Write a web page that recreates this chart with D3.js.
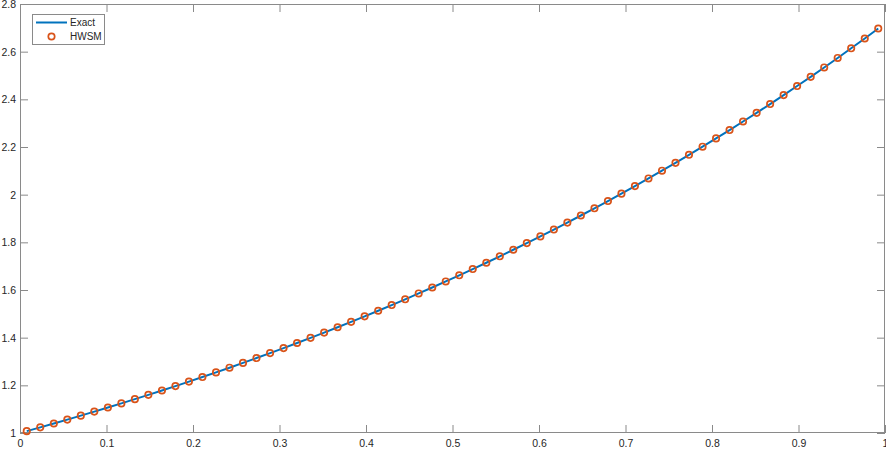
<!DOCTYPE html>
<html>
<head>
<meta charset="utf-8">
<script src="https://cdn.jsdelivr.net/npm/d3@7"></script>
<style>
  html, body { margin: 0; padding: 0; background: #fff; }
  svg { display: block; font-family: "Liberation Sans", Arial, Helvetica, sans-serif; }
</style>
</head>
<body>
<div class="displayArea"></div>
<script>
// collocation points (x) and values
const xPoints = [
  0.0078, 0.0234, 0.0391, 0.0547, 0.0703, 0.0859, 0.1016, 0.1172,
  0.1328, 0.1484, 0.1641, 0.1797, 0.1953, 0.2109, 0.2266, 0.2422,
  0.2578, 0.2734, 0.2891, 0.3047, 0.3203, 0.3359, 0.3516, 0.3672,
  0.3828, 0.3984, 0.4141, 0.4297, 0.4453, 0.4609, 0.4766, 0.4922,
  0.5078, 0.5234, 0.5391, 0.5547, 0.5703, 0.5859, 0.6016, 0.6172,
  0.6328, 0.6484, 0.6641, 0.6797, 0.6953, 0.7109, 0.7266, 0.7422,
  0.7578, 0.7734, 0.7891, 0.8047, 0.8203, 0.8359, 0.8516, 0.8672,
  0.8828, 0.8984, 0.9141, 0.9297, 0.9453, 0.9609, 0.9766, 0.9922
];

const exactValues = [
  1.0078, 1.0237, 1.0398, 1.0562, 1.0728, 1.0897, 1.1069, 1.1243,
  1.1420, 1.1600, 1.1783, 1.1968, 1.2157, 1.2348, 1.2543, 1.2740,
  1.2941, 1.3145, 1.3352, 1.3562, 1.3776, 1.3993, 1.4213, 1.4437,
  1.4664, 1.4895, 1.5130, 1.5368, 1.5610, 1.5856, 1.6105, 1.6359,
  1.6617, 1.6878, 1.7144, 1.7414, 1.7688, 1.7967, 1.8250, 1.8537,
  1.8829, 1.9126, 1.9427, 1.9733, 2.0043, 2.0359, 2.0680, 2.1005,
  2.1336, 2.1672, 2.2013, 2.2360, 2.2712, 2.3070, 2.3433, 2.3802,
  2.4177, 2.4558, 2.4944, 2.5337, 2.5736, 2.6142, 2.6553, 2.6971
];

const hwsmValues = [
  1.0078, 1.0237, 1.0398, 1.0562, 1.0728, 1.0897, 1.1069, 1.1243,
  1.1420, 1.1600, 1.1783, 1.1968, 1.2157, 1.2348, 1.2543, 1.2740,
  1.2941, 1.3145, 1.3352, 1.3562, 1.3776, 1.3993, 1.4213, 1.4437,
  1.4664, 1.4895, 1.5130, 1.5368, 1.5610, 1.5856, 1.6105, 1.6359,
  1.6617, 1.6878, 1.7144, 1.7414, 1.7688, 1.7967, 1.8250, 1.8537,
  1.8829, 1.9126, 1.9427, 1.9733, 2.0043, 2.0359, 2.0680, 2.1005,
  2.1336, 2.1672, 2.2013, 2.2360, 2.2712, 2.3070, 2.3433, 2.3802,
  2.4177, 2.4558, 2.4944, 2.5337, 2.5736, 2.6142, 2.6553, 2.6971
];

const xTicks = [0, 0.1, 0.2, 0.3, 0.4, 0.5, 0.6, 0.7, 0.8, 0.9, 1];
const xTickLabels = ["0", "0.1", "0.2", "0.3", "0.4", "0.5", "0.6", "0.7", "0.8", "0.9", "1"];
const yTicks = [1, 1.2, 1.4, 1.6, 1.8, 2, 2.2, 2.4, 2.6, 2.8];
const yTickLabels = ["1", "1.2", "1.4", "1.6", "1.8", "2", "2.2", "2.4", "2.6", "2.8"];

const seriesNames = ["Exact", "HWSM"];

// 画布尺寸
const width = 886, height = 450;
const margin = { top: 4, right: 1, bottom: 17, left: 20 };
const axisColor = "#8a8a8a";
const textColor = "#262626";
const blue = "#0072BD";
const orange = "#D95319";

const svg = d3.select(".displayArea").append("svg")
    .attr("width", width)
    .attr("height", height);

const x = d3.scaleLinear()
    .domain([0, 1])
    .range([margin.left, width - margin.right]);

const y = d3.scaleLinear()
    .domain([1, 2.8])
    .range([height - margin.bottom, margin.top]);

const innerW = width - margin.left - margin.right;
const innerH = height - margin.top - margin.bottom;

// 坐标轴
function styleAxis(g) {
    g.select(".domain").remove();
    g.selectAll(".tick line").attr("stroke", axisColor);
    g.selectAll(".tick text")
        .attr("fill", textColor)
        .style("font-size", "10.5px");
}

svg.append("g")
    .attr("transform", `translate(0,${height - margin.bottom})`)
    .call(d3.axisBottom(x)
        .tickValues(xTicks)
        .tickFormat((d, i) => xTickLabels[i])
        .tickSizeInner(-8)
        .tickSizeOuter(0)
        .tickPadding(7))
    .call(styleAxis);

svg.append("g")
    .attr("transform", `translate(0,${margin.top})`)
    .call(d3.axisTop(x)
        .tickValues(xTicks)
        .tickFormat("")
        .tickSizeInner(-8)
        .tickSizeOuter(0))
    .call(styleAxis);

svg.append("g")
    .attr("transform", `translate(${margin.left},0)`)
    .call(d3.axisLeft(y)
        .tickValues(yTicks)
        .tickFormat((d, i) => yTickLabels[i])
        .tickSizeInner(-8)
        .tickSizeOuter(0)
        .tickPadding(4))
    .call(styleAxis);

svg.append("g")
    .attr("transform", `translate(${width - margin.right},0)`)
    .call(d3.axisRight(y)
        .tickValues(yTicks)
        .tickFormat("")
        .tickSizeInner(-8)
        .tickSizeOuter(0))
    .call(styleAxis);

// 边框
svg.append("rect")
    .attr("x", margin.left + 0.5)
    .attr("y", margin.top + 0.5)
    .attr("width", innerW - 1)
    .attr("height", innerH - 1)
    .attr("fill", "none")
    .attr("stroke", axisColor)
    .attr("stroke-width", 1);

// 精确解曲线
const line = d3.line()
    .x((d, i) => x(xPoints[i]))
    .y(d => y(d));

svg.append("path")
    .datum(exactValues)
    .attr("d", line)
    .attr("fill", "none")
    .attr("stroke", blue)
    .attr("stroke-width", 2);

// 数值解标记
svg.append("g")
    .selectAll("circle")
    .data(hwsmValues)
    .enter()
    .append("circle")
    .attr("cx", (d, i) => x(xPoints[i]))
    .attr("cy", d => y(d))
    .attr("r", 3.2)
    .attr("fill", "none")
    .attr("stroke", orange)
    .attr("stroke-width", 1.7);

// 图例
const legend = svg.append("g")
    .attr("transform", "translate(32,14)");

legend.append("rect")
    .attr("x", 0.5)
    .attr("y", 0.5)
    .attr("width", 72)
    .attr("height", 30)
    .attr("fill", "#fff")
    .attr("stroke", axisColor);

legend.append("line")
    .attr("x1", 4).attr("x2", 35)
    .attr("y1", 8.5).attr("y2", 8.5)
    .attr("stroke", blue)
    .attr("stroke-width", 2);

legend.append("circle")
    .attr("cx", 19.5)
    .attr("cy", 22.5)
    .attr("r", 3.2)
    .attr("fill", "none")
    .attr("stroke", orange)
    .attr("stroke-width", 1.7);

legend.selectAll("text")
    .data(seriesNames)
    .enter()
    .append("text")
    .attr("x", 38)
    .attr("y", (d, i) => 8.5 + i * 14)
    .attr("dy", "0.35em")
    .attr("fill", textColor)
    .style("font-size", "10px")
    .text(d => d);
</script>
</body>
</html>
